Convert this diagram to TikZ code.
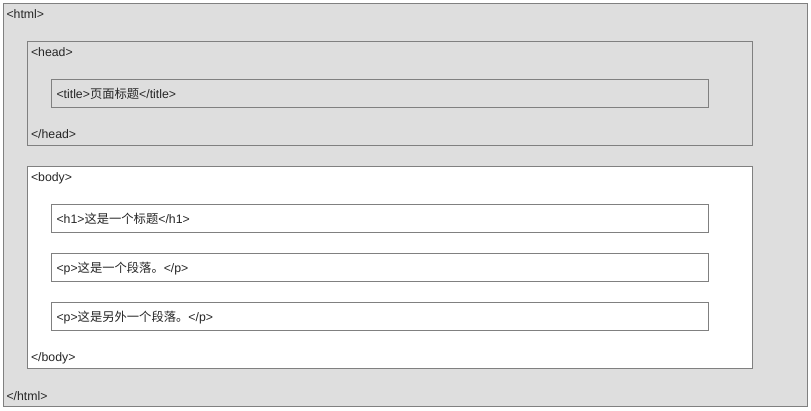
\documentclass[tikz,border=0pt]{standalone}
\usepackage{fontspec}
\setmainfont{Liberation Sans}
\newfontfamily\cjk{Noto Sans CJK SC}
\begin{document}
\begin{tikzpicture}[x=1pt,y=-1pt,
  frame/.style={draw=black!50,line width=1pt},
  gray box/.style={frame,fill=black!13},
  white box/.style={frame,fill=white},
  tag/.style={anchor=base west,inner sep=0pt,outer sep=0pt,text=black!85,font=\fontsize{12.3}{14}\selectfont}]
\useasboundingbox (0,0) rectangle (811,410);
% html
\draw[gray box] (3.5,3.5) rectangle (807.5,406.5);
\node[tag] (htmlopen) at (6.5,18.5) {<html>};
\node[tag] (htmlclose) at (6.5,400.5) {</html>};
% head
\draw[gray box] (27.5,41.5) rectangle (752.5,145.5);
\node[tag] (headopen) at (31,56) {<head>};
\node[tag] (headclose) at (31,138) {</head>};
\draw[gray box] (51.5,79.5) rectangle (708.5,107.5);
\node[tag] (title) at (56.5,98) {<title>{\cjk 页面标题}</title>};
% body
\draw[white box] (27.5,166.5) rectangle (752.5,368.5);
\node[tag] (bodyopen) at (31,181) {<body>};
\node[tag] (bodyclose) at (31,361.5) {</body>};
\draw[white box] (51.5,204.5) rectangle (708.5,232.5);
\node[tag] (h1) at (56.5,223) {<h1>{\cjk 这是一个标题}</h1>};
\draw[white box] (51.5,253.5) rectangle (708.5,281.5);
\node[tag] (p1) at (56.5,272) {<p>{\cjk 这是一个段落。}</p>};
\draw[white box] (51.5,302.5) rectangle (708.5,330.5);
\node[tag] (p2) at (56.5,321) {<p>{\cjk 这是另外一个段落。}</p>};
\end{tikzpicture}
\end{document}
